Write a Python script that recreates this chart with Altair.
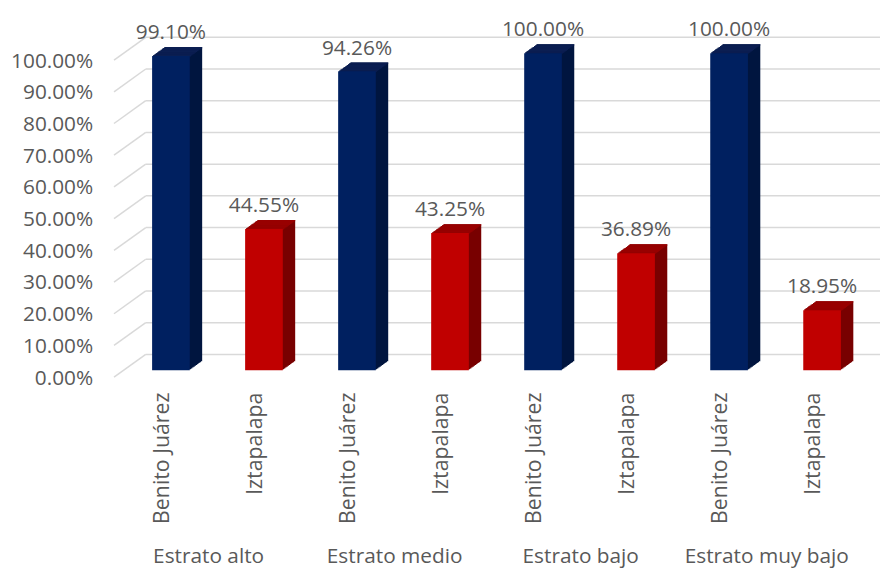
import altair as alt
import pandas as pd

groups = ["Estrato alto", "Estrato medio", "Estrato bajo", "Estrato muy bajo"]
districts = ["Benito Juárez", "Iztapalapa"]
benito = [99.10, 94.26, 100.00, 100.00]
izta = [44.55, 43.25, 36.89, 18.95]
ticks = [0, 10, 20, 30, 40, 50, 60, 70, 80, 90, 100]

rows = []
for g, b, i in zip(groups, benito, izta):
    rows.append({"bar": g + "|" + districts[0], "group": g, "district": districts[0], "value": b})
    rows.append({"bar": g + "|" + districts[1], "group": g, "district": districts[1], "value": i})
df = pd.DataFrame(rows)
order = list(df["bar"])
grid_df = pd.DataFrame({"value": ticks})

W, H = 751, 320
DX, DY = 12.5, -9.0
N = 10
FONT = "Open Sans"
TXT = "#595959"
GRID = "#D9D9D9"

yaxis = alt.Axis(title=None, values=ticks, labelExpr="format(datum.value, '.2f') + '%'",
                 ticks=False, domain=False, grid=False, labelPadding=32, labelOffset=8,
                 labelFont=FONT, labelFontSize=21, labelColor=TXT)
Y = alt.Y("value:Q", scale=alt.Scale(domain=[0, 100], nice=False, zero=True), axis=yaxis)
X = alt.X("bar:N", sort=order,
          scale=alt.Scale(paddingInner=0.595, paddingOuter=0.2975),
          axis=alt.Axis(title=None, labelAngle=-90, labelExpr="split(datum.label, '|')[1]",
                        ticks=False, domain=False, grid=False, labelPadding=22, labelOffset=-8,
                        labelOverlap=False, labelFont=FONT, labelFontSize=21.5, labelColor=TXT))

is_bj = alt.datum.district == districts[0]
front_c = alt.condition(is_bj, alt.value("#002060"), alt.value("#C00000"))
side_c = alt.condition(is_bj, alt.value("#00153F"), alt.value("#780000"))
top_c = alt.condition(is_bj, alt.value("#0B1E52"), alt.value("#980000"))

base = alt.Chart(df)
layers = []

# back-wall gridlines (3D perspective)
layers.append(alt.Chart(grid_df).mark_rule(color=GRID, strokeWidth=1.5, yOffset=7, y2Offset=-16).encode(
    x=alt.value(-10.5), x2=alt.value(21.5), y=Y, y2=alt.Y2("value")))
layers.append(alt.Chart(grid_df).mark_rule(color=GRID, strokeWidth=1.5, yOffset=-16).encode(
    x=alt.value(21.5), x2=alt.value(W + 15), y=Y))

# bar depth (side)
for k in range(1, N + 1):
    ox = DX * k / N
    oy = DY * k / N
    layers.append(base.mark_bar(xOffset=ox, x2Offset=ox, yOffset=oy, y2Offset=oy).encode(
        x=X, y=Y, color=side_c))
# bar top faces
for k in range(1, N + 1):
    ox = DX * k / N
    oy = DY * k / N
    layers.append(base.mark_bar(xOffset=ox, x2Offset=ox, yOffset=oy, y2Offset=oy - DY / N + 0.4).encode(
        x=X, y=Y, y2=alt.Y2("value"), color=top_c))
# front faces
layers.append(base.mark_bar().encode(x=X, y=Y, color=front_c))

# data labels
layers.append(base.transform_calculate(label="format(datum.value, '.2f') + '%'").mark_text(
    dy=-17, baseline="alphabetic", font=FONT, fontSize=21, color=TXT).encode(
    x=X, y=Y, text=alt.Text("label:N")))

# group labels
layers.append(base.transform_filter(is_bj).mark_text(
    dx=38, baseline="middle", font=FONT, fontSize=21, color=TXT).encode(
    x=X, y=alt.value(509), text=alt.Text("group:N")))

chart = alt.layer(*layers).properties(
    width=W, height=H,
    padding={"left": 117.5, "top": 43, "right": 11.5, "bottom": 197},
    autosize=alt.AutoSizeParams(type="none"),
).configure_view(stroke=None)

chart.save("out.html", embed_options={"renderer": "svg", "actions": False})
